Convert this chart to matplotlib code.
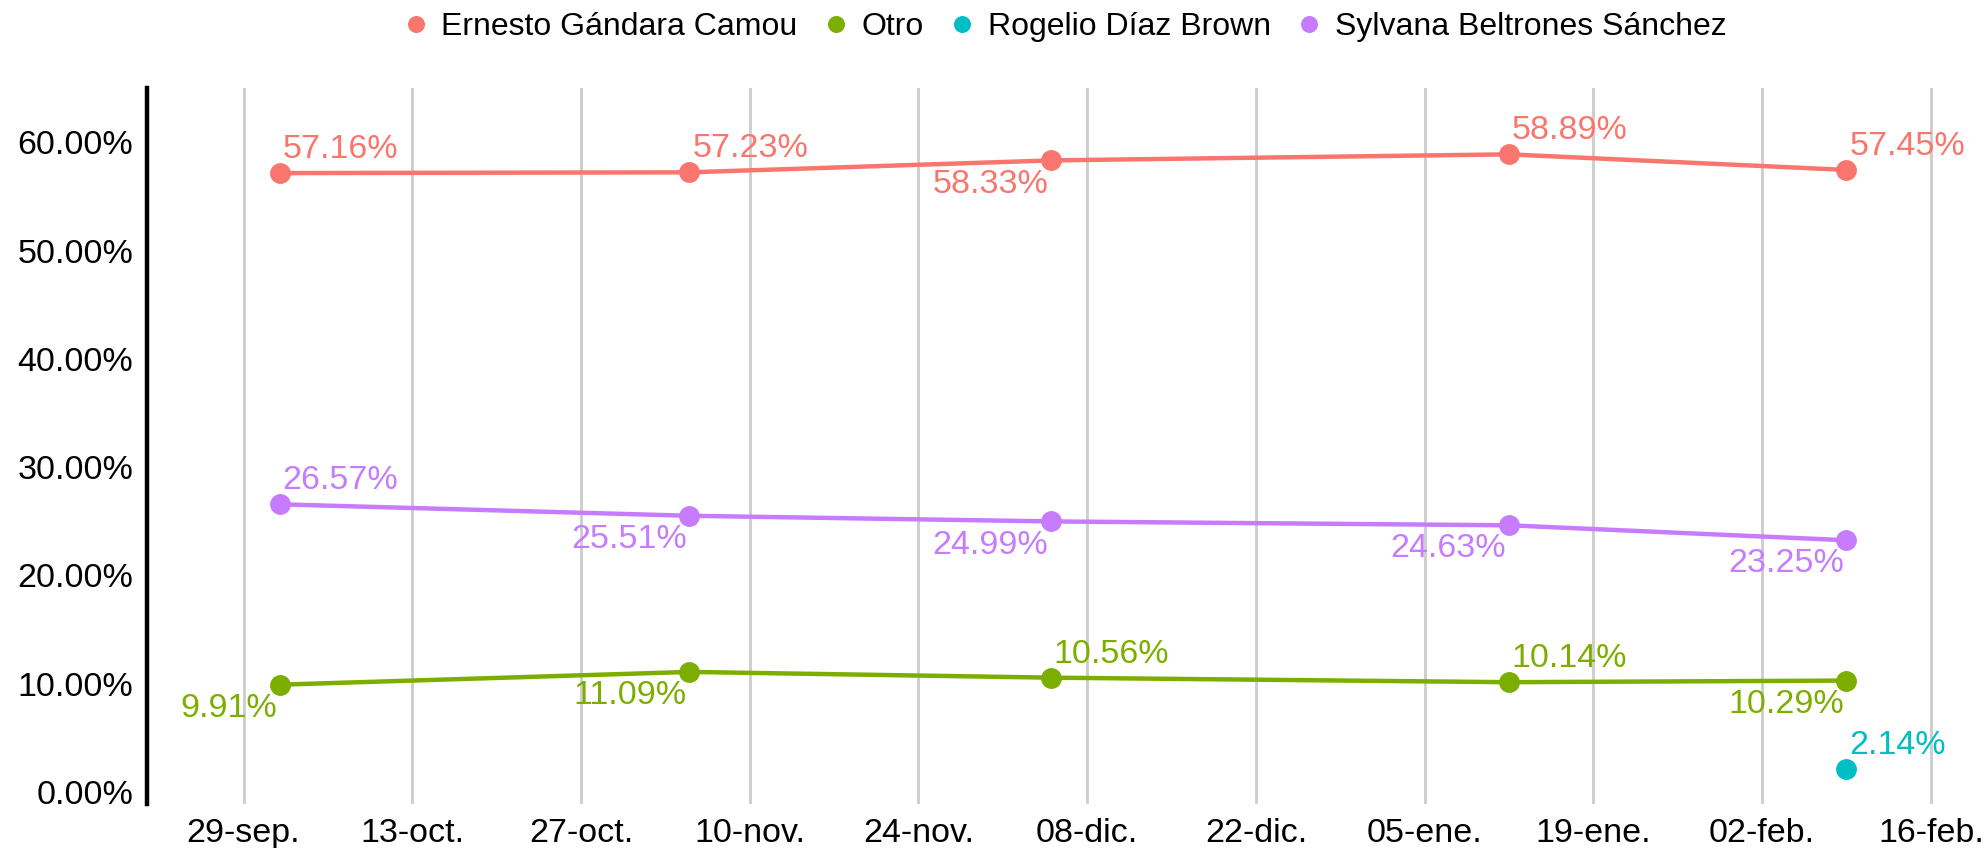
import pandas as pd
import matplotlib
matplotlib.use("Agg")
import matplotlib.pyplot as plt

plt.rcParams["font.family"] = ["Liberation Sans", "DejaVu Sans"]

# Data
dates = pd.to_datetime(["2020-10-02", "2020-11-05", "2020-12-05", "2021-01-12", "2021-02-09"])
ernesto = [57.16, 57.23, 58.33, 58.89, 57.45]
otro = [9.91, 11.09, 10.56, 10.14, 10.29]
sylvana = [26.57, 25.51, 24.99, 24.63, 23.25]
rogelio_date = pd.to_datetime(["2021-02-09"])
rogelio = [2.14]

tick_dates = pd.date_range("2020-09-29", "2021-02-16", freq="14D")
tick_labels = ["29-sep.", "13-oct.", "27-oct.", "10-nov.", "24-nov.", "08-dic.",
               "22-dic.", "05-ene.", "19-ene.", "02-feb.", "16-feb."]
y_ticks = [0, 10, 20, 30, 40, 50, 60]

# label placement: 1 = above-right, -1 = below-left
ernesto_pos = [1, 1, -1, 1, 1]
otro_pos = [-1, -1, 1, 1, -1]
sylvana_pos = [1, -1, -1, -1, -1]
rogelio_pos = [1]

colors = {"Ernesto Gándara Camou": "#F8766D", "Otro": "#7CAE00",
          "Rogelio Díaz Brown": "#00BFC4", "Sylvana Beltrones Sánchez": "#C77CFF"}

fig = plt.figure(figsize=(19.88, 8.48), dpi=100)
ax = fig.add_axes([0.074, 0.052, 0.9215, 0.844])

series = [
    ("Ernesto Gándara Camou", dates, ernesto, ernesto_pos),
    ("Otro", dates, otro, otro_pos),
    ("Rogelio Díaz Brown", rogelio_date, rogelio, rogelio_pos),
    ("Sylvana Beltrones Sánchez", dates, sylvana, sylvana_pos),
]

for name, x, y, pos in series:
    c = colors[name]
    ax.plot(x, y, color=c, lw=3.2, zorder=3)
    ax.plot(x, y, "o", color=c, ms=14, zorder=4, label=name)
    for xi, yi, p in zip(x, y, pos):
        if p > 0:
            ax.annotate(f"{yi:.2f}%", (xi, yi), xytext=(2, 17), textcoords="offset points",
                        ha="left", va="center", color=c, fontsize=24.5)
        else:
            ax.annotate(f"{yi:.2f}%", (xi, yi), xytext=(-2, -17), textcoords="offset points",
                        ha="right", va="center", color=c, fontsize=24.5)

ax.set_xlim(pd.Timestamp("2020-09-21"), pd.Timestamp("2021-02-20"))
ax.set_ylim(-1.1, 65)
ax.set_xticks(tick_dates)
ax.set_xticklabels(tick_labels, fontsize=24.5)
ax.set_yticks(y_ticks)
ax.set_yticklabels([f"{v:.2f}%" for v in y_ticks], fontsize=24.5)
ax.tick_params(length=0, pad=10)

ax.grid(axis="x", color="#cccccc", lw=2)
ax.set_axisbelow(True)
for s in ["top", "right", "bottom"]:
    ax.spines[s].set_visible(False)
ax.spines["left"].set_linewidth(3.2)
ax.spines["left"].set_color("black")

ax.legend(loc="center", bbox_to_anchor=(0.5, 1.085), ncol=4, frameon=False,
          fontsize=23, handletextpad=0.3, columnspacing=0.7, markerscale=0.8,
          handlelength=1.0)

fig.savefig("out.png", dpi=100)
